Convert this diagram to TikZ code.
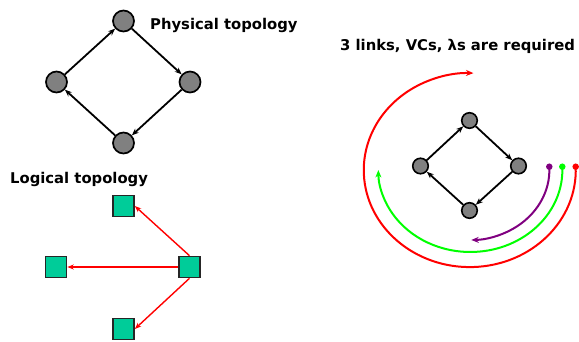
\documentclass[tikz,border=0pt]{standalone}
\usepackage{fontspec}
\setmainfont{DejaVu Sans}[BoldFont={DejaVu Sans Bold}]
\usetikzlibrary{arrows.meta}
\definecolor{nodegray}{RGB}{128,128,128}
\definecolor{sqteal}{RGB}{0,204,153}
\definecolor{vgreen}{RGB}{0,255,0}
\definecolor{vpurple}{RGB}{128,0,128}
\begin{document}
\begin{tikzpicture}[x=1pt,y=-1pt,
  bignode/.style={circle,draw=black,fill=nodegray,line width=1.7pt,minimum size=21pt,inner sep=0pt},
  smallnode/.style={circle,draw=black,fill=nodegray,line width=1.6pt,minimum size=15.5pt,inner sep=0pt},
  sq/.style={rectangle,draw=black!85,fill=sqteal,line width=1.6pt,minimum size=21pt,inner sep=0pt},
  title/.style={font=\bfseries\fontsize{14.8}{17}\selectfont,inner sep=0pt,anchor=base west},
  phys/.style={-{Stealth[length=7pt,width=5.5pt]},line width=1.8pt},
  logi/.style={-{Stealth[length=6.5pt,width=5pt]},red,line width=1.4pt},
  ring/.style={line width=2pt,-{Stealth[length=7.5pt,width=6pt]}},
  dot/.style={circle,inner sep=0pt,minimum size=6.5pt}
]
\useasboundingbox (0,0) rectangle (579,341);

% Physical topology
\node[bignode] (pt) at (123.5,21) {};
\node[bignode] (pl) at (56.5,82) {};
\node[bignode] (pr) at (190,82) {};
\node[bignode] (pb) at (123.5,143) {};
\draw[phys] (pl) -- (pt);
\draw[phys] (pt) -- (pr);
\draw[phys] (pr) -- (pb);
\draw[phys] (pb) -- (pl);
\node[title] (phystitle) at (150,29.3) {Physical topology};

% Logical topology
\node[title] (logtitle) at (10,183.3) {Logical topology};
\node[sq] (lt) at (123.5,206) {};
\node[sq] (ll) at (56,267) {};
\node[sq] (lr) at (189.5,267) {};
\node[sq] (lb) at (123.5,329) {};
\draw[logi] (lr.north) -- (lt.east);
\draw[logi] (lr.west) -- (ll.east);
\draw[logi] (lr.south) -- (lb.east);

% Right diagram
\node[title] (rtitle) at (340,50.7) {3 links, VCs, λs are required};
\node[smallnode] (rt) at (469.5,120.5) {};
\node[smallnode] (rl) at (420.5,166) {};
\node[smallnode] (rr) at (518.5,166) {};
\node[smallnode] (rb) at (469.5,210.5) {};
\draw[phys] (rl) -- (rt);
\draw[phys] (rt) -- (rr);
\draw[phys] (rr) -- (rb);
\draw[phys] (rb) -- (rl);

\node[dot,fill=red] (rdot) at (575.7,166.7) {};
\node[dot,fill=vgreen] (gdot) at (562.3,166.7) {};
\node[dot,fill=vpurple] (pdot) at (549.3,166.7) {};
\draw[ring,red] (rdot.center) arc[start angle=-2,end angle=272,x radius=106,y radius=97];
\draw[ring,vgreen] (gdot.center) arc[start angle=-2.3,end angle=180,x radius=92,y radius=82];
\draw[ring,vpurple] (pdot.center) arc[start angle=-2.7,end angle=89,x radius=79.5,y radius=70];
\end{tikzpicture}
\end{document}
